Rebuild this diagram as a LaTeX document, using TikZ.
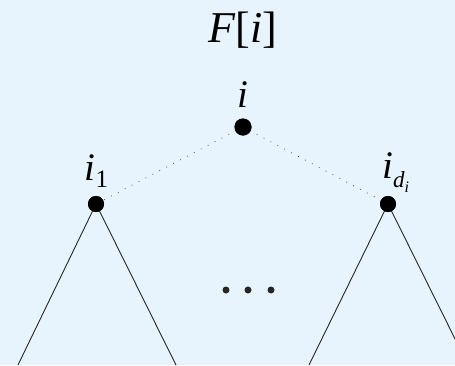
\documentclass[tikz,border=0pt]{standalone}
\usepackage{fontspec}
\setmainfont{Liberation Serif}
\definecolor{bgblue}{HTML}{E7F4FE}
\begin{document}
\begin{tikzpicture}[x=1pt,y=-1pt,
  vdot/.style={circle,fill=black,inner sep=0pt,minimum size=16pt},
  edot/.style={circle,fill=black!85,inner sep=0pt,minimum size=7pt},
  lbl/.style={inner sep=0pt,anchor=base,font=\fontsize{39}{39}\selectfont\itshape},
  dotline/.style={black!70,line width=0.8pt,dash pattern=on 0.8pt off 7pt},
  edge/.style={black!85,line width=0.9pt}]
\fill[bgblue] (0,0) rectangle (455,365);
\useasboundingbox (0,0) rectangle (455,365);
\node[inner sep=0pt,anchor=base,font=\fontsize{44}{44}\selectfont] (title) at (243,42) {\textit{F}[\textit{i}]};
\node[vdot,minimum size=17pt] (root) at (243,127) {};
\node[vdot] (c1) at (96,204) {};
\node[vdot] (c2) at (388,204) {};
\node[lbl] (lroot) at (243,107) {i};
\node[lbl] (l1) at (96.5,180) {i\raisebox{-7pt}{\upshape\fontsize{25}{25}\selectfont 1}};
\node[lbl,anchor=base west] (l2) at (382,178) {i\raisebox{-9pt}{\fontsize{23}{23}\selectfont d\raisebox{-5pt}{\fontsize{16}{16}\selectfont i}}};
\coordinate (c1l) at (18,365);
\coordinate (c1r) at (176,365);
\coordinate (c2l) at (309,365);
\coordinate (c2r) at (468,365);
\begin{scope}
\clip (0,0) rectangle (455,365);
\draw[dotline] (root.center) -- (c1.center);
\draw[dotline] (root.center) -- (c2.center);
\draw[edge] (c1.center) -- (c1l);
\draw[edge] (c1.center) -- (c1r);
\draw[edge] (c2.center) -- (c2l);
\draw[edge] (c2.center) -- (c2r);
\end{scope}
\node[vdot,minimum size=17pt] at (root) {};
\node[vdot] at (c1) {};
\node[vdot] at (c2) {};
\node[edot] (e1) at (226,290) {};
\node[edot] (e2) at (248,290) {};
\node[edot] (e3) at (271,290) {};
\end{tikzpicture}
\end{document}
